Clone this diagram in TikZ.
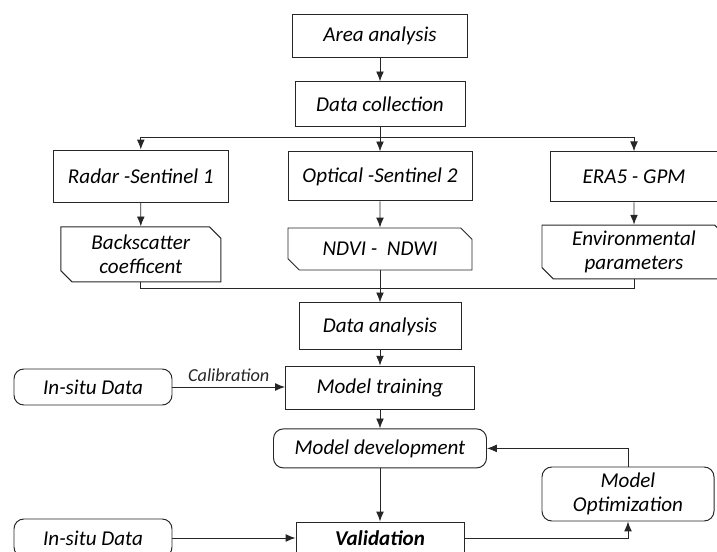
\documentclass[tikz,border=0pt]{standalone}
\usepackage{fontspec}
\setmainfont{Carlito}
\usetikzlibrary{arrows.meta,shapes.misc}

\tikzset{
  box/.style={draw=black!85, line width=0.7pt, align=center, inner sep=1pt,
    font=\fontsize{15}{17}\selectfont\itshape},
  roundbox/.style={box, rounded corners=7pt},
  snipbox/.style={box, chamfered rectangle,
    chamfered rectangle corners={north east,south west},
    chamfered rectangle xsep=0.17cm, chamfered rectangle angle=45},
  arr/.style={-{Latex[length=7pt,width=5.5pt]}, line width=0.6pt, black!85},
  link/.style={line width=0.6pt, black!85}
}

\begin{document}
\begin{tikzpicture}
\clip (0,0) rectangle (17.925,13.8);

% top of the flow
\node[box, minimum width=4.375cm, minimum height=1.075cm] (area) at (9.5,12.91) {Area analysis};
\node[box, minimum width=4.25cm, minimum height=1.125cm] (dc) at (9.5,11.19) {Data collection};

% sources
\node[box, minimum width=4.375cm, minimum height=1.3cm] (radar) at (3.52,9.4) {Radar -Sentinel 1};
\node[box, minimum width=4.6cm, minimum height=1.225cm] (optical) at (9.5,9.39) {Optical -Sentinel 2};
\node[box, minimum width=4.2cm, minimum height=1.25cm] (era) at (15.85,9.38) {ERA5 - GPM};

% derived data
\node[snipbox, minimum width=4.0cm, minimum height=1.375cm] (back) at (3.52,7.44) {Backscatter\\coefficent};
\node[snipbox, minimum width=4.6cm, minimum height=1.05cm] (ndvi) at (9.5,7.575) {NDVI -\ \ NDWI};
\node[snipbox, minimum width=4.6cm, minimum height=1.3cm] (env) at (15.85,7.5) {Environmental\\parameters};

% modelling
\node[box, minimum width=4.05cm, minimum height=1.175cm] (da) at (9.5,5.64) {Data analysis};
\node[box, minimum width=4.725cm, minimum height=1.075cm] (train) at (9.5,4.11) {Model training};
\node[roundbox, minimum width=3.95cm, minimum height=0.9cm] (insitu1) at (2.325,4.125) {In-situ Data};
\node[roundbox, minimum width=5.325cm, minimum height=0.975cm] (dev) at (9.5,2.59) {Model development};
\node[roundbox, minimum width=4.3cm, minimum height=1.35cm] (opt) at (15.7,1.45) {Model\\Optimization};
\node[box, minimum width=4.2cm, minimum height=0.8cm, font=\fontsize{15}{17}\selectfont\bfseries\itshape] (val) at (9.5,0.35) {Validation};
\node[roundbox, minimum width=3.95cm, minimum height=0.95cm] (insitu2) at (2.325,0.35) {In-situ Data};

\coordinate (split) at (9.5,10.375);
\coordinate (merge) at (9.5,6.6);

\draw[arr] (area) -- (dc);
\draw[link] (dc.south) -- (split);
\draw[arr] (split) -| (radar.north);
\draw[arr] (split) -- (optical.north);
\draw[arr] (split) -| (era.north);
\draw[arr] (radar) -- (back);
\draw[arr] (optical) -- (ndvi);
\draw[arr] (era) -- (env);
\draw[link] (back.south) |- (merge);
\draw[link] (env.south) |- (merge);
\draw[arr] (ndvi.south) -- (da.north);
\draw[arr] (da) -- (train);
\draw[arr] (insitu1) -- node[above, font=\fontsize{13}{15}\selectfont\itshape] {Calibration} (insitu1 -| train.west);
\draw[arr] (train) -- (dev);
\draw[arr] (dev) -- (val);
\draw[arr] (opt.north) |- (dev.east);
\draw[arr] (val.east) -| (opt.south);
\draw[arr] (insitu2) -- (insitu2 -| val.west);
\end{tikzpicture}
\end{document}
